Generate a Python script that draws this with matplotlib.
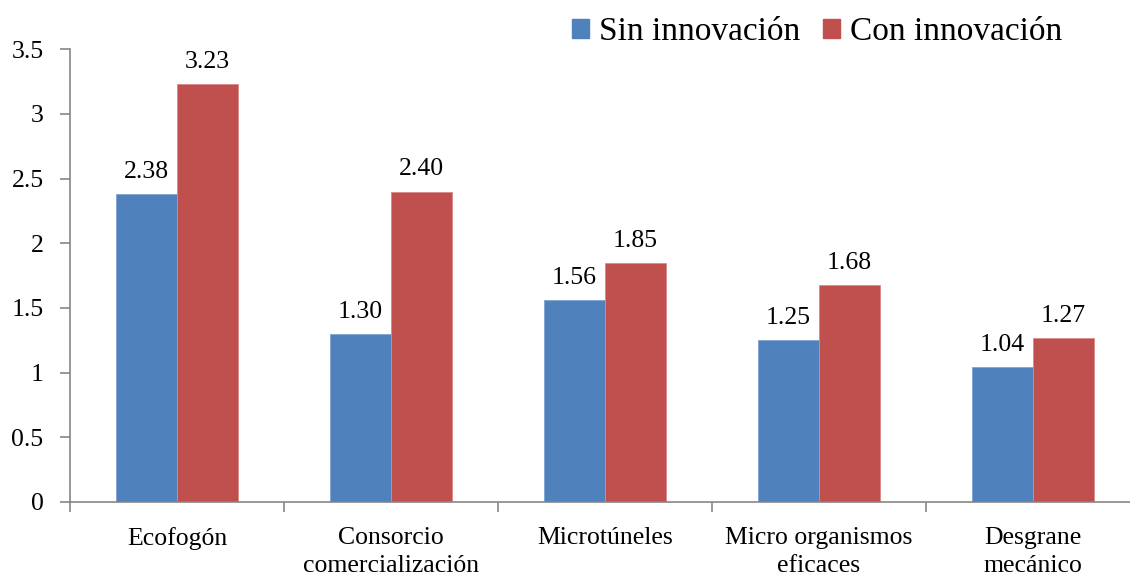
import matplotlib
matplotlib.use("Agg")
import matplotlib.pyplot as plt
import numpy as np
from matplotlib.patches import Patch

categories = ["Ecofogón", "Consorcio\ncomercialización", "Microtúneles",
              "Micro organismos\neficaces", "Desgrane\nmecánico"]
sin_innov = [2.38, 1.30, 1.56, 1.25, 1.04]
con_innov = [3.23, 2.40, 1.85, 1.68, 1.27]
series_names = ["Sin innovación", "Con innovación"]
yticks = [0, 0.5, 1, 1.5, 2, 2.5, 3, 3.5]
ytick_labels = ["0", "0.5", "1", "1.5", "2", "2.5", "3", "3.5"]

plt.rcParams['font.family'] = ['Liberation Serif', 'DejaVu Serif']
blue = "#4F81BD"
red = "#C0504D"
FS = 18.5

fig = plt.figure(figsize=(11.3, 5.81), dpi=100)
ax = fig.add_axes([70/1130, 1-502/581, 1070/1130, (502-49.3)/581])

x = np.arange(len(categories))
w = 1/3.5
b1 = ax.bar(x - w/2, sin_innov, w, color=blue, edgecolor="#7fa3d0", linewidth=0.6)
b2 = ax.bar(x + w/2, con_innov, w, color=red, edgecolor="#d88a88", linewidth=0.6)

for bars, vals in ((b1, sin_innov), (b2, con_innov)):
    for r, v in zip(bars, vals):
        ax.text(r.get_x() + r.get_width()/2, v + 0.125, f"{v:.2f}",
                ha="center", va="baseline", fontsize=FS)

ax.set_xlim(-0.5, len(categories) - 0.5)
ax.set_ylim(0, 3.5)
ax.set_yticks(yticks)
ax.set_yticklabels(ytick_labels, fontsize=FS)
ax.set_xticks(np.arange(len(categories) + 1) - 0.5)
ax.set_xticklabels([])
ax.set_xticks(x, minor=True)
ax.set_xticklabels(categories, minor=True, fontsize=FS, linespacing=1.35)
ax.tick_params(axis="x", which="minor", length=0, pad=18)
ax.tick_params(axis="x", which="major", length=7, color="#868686", width=1.2)
ax.tick_params(axis="y", length=7, color="#868686", width=1.2, pad=12)

for s in ("top", "right"):
    ax.spines[s].set_visible(False)
for s in ("left", "bottom"):
    ax.spines[s].set_color("#868686")
    ax.spines[s].set_linewidth(1.2)

handles = [Patch(color=blue), Patch(color=red)]
fig.legend(handles, series_names, loc="upper right", bbox_to_anchor=(1079/1130, 1.0),
           ncol=2, frameon=False, fontsize=24, handlelength=0.5, handleheight=0.5,
           handletextpad=0.3, columnspacing=0.7, borderaxespad=0.1)

fig.savefig("out.png", dpi=100)
